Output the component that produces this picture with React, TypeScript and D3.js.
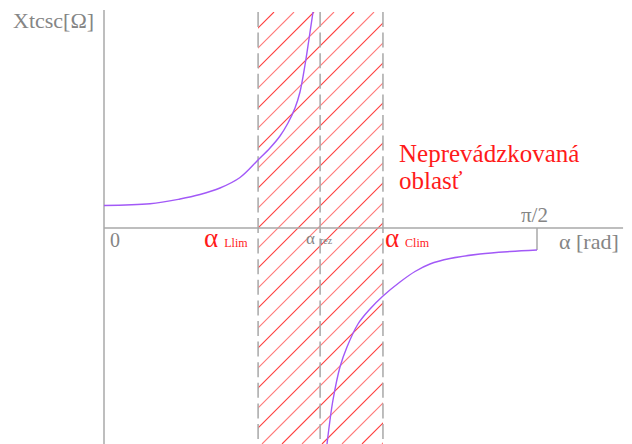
import React from "react";
import * as d3 from "d3";

// Reactance of the TCSC vs. firing angle α (rad)
const leftAlpha = [0, 0.1669, 0.2757, 0.3483, 0.4208, 0.4934, 0.5587, 0.6022, 0.6385, 0.6675, 0.6929, 0.711, 0.7292, 0.7437, 0.7582];
const leftX = [1.125, 1.21, 1.45, 1.675, 2.0, 2.525, 3.4, 4.0, 4.6, 5.25, 6.0, 6.8, 8.15, 9.45, 10.8];
const rightAlpha = [0.809, 0.8199, 0.8307, 0.8561, 0.8815, 0.9214, 0.965, 1.0121, 1.0738, 1.1282, 1.1826, 1.2552, 1.364, 1.4728, 1.5708];
const rightX = [-10.8, -9.6, -8.6, -6.95, -5.95, -4.8, -4.05, -3.4, -2.7, -2.175, -1.8, -1.525, -1.3, -1.175, -1.1];

// characteristic angles
const alphaLlim = 0.559;
const alphaRez = 0.784;
const alphaClim = 1.012;
const alphaMax = Math.PI / 2;
const alphaAxisEnd = 1.883;

const W = 632;
const H = 444;

export default function App() {
  const x = d3.scaleLinear().domain([0, alphaMax]).range([104, 537]);
  const y = d3.scaleLinear().domain([-10.8, 10.9]).range([444, 10]);

  const line = d3
    .line<[number, number]>()
    .x((d) => x(d[0]))
    .y((d) => y(d[1]))
    .curve(d3.curveCatmullRom.alpha(0.5));

  const leftPts = leftAlpha.map((a, i) => [a, leftX[i]] as [number, number]);
  const rightPts = rightAlpha.map((a, i) => [a, rightX[i]] as [number, number]);

  const x0 = x(alphaLlim);
  const x1 = x(alphaClim);
  const yTop = 12;
  const yBot = H;

  // diagonal hatch lines x + y = c
  const hatch: number[] = [];
  for (let c = 6; c < x1 + yBot + 40; c += 20) {
    if (c > x0 + yTop) hatch.push(c);
  }

  const gray = "#858585";
  const axisGray = "#a8a8a8";
  const red = "#ff1a1a";
  const serif = "'Liberation Serif', 'DejaVu Serif', serif";

  return (
    <svg
      width={W}
      height={H}
      style={{ position: "fixed", left: 0, top: 0, background: "#fff" }}
      fontFamily={serif}
    >
      <defs>
        <clipPath id="zone">
          <rect x={x0} y={yTop} width={x1 - x0} height={yBot - yTop} />
        </clipPath>
      </defs>

      {/* hatched non-operating zone */}
      <g clipPath="url(#zone)">
        {hatch.map((c, i) => (
          <line
            key={c}
            x1={c - yBot}
            y1={yBot}
            x2={c - yTop}
            y2={yTop}
            stroke={red}
            strokeOpacity={i % 2 === 0 ? 0.85 : 0.6}
            strokeWidth={1.1}
          />
        ))}
      </g>

      {[alphaLlim, alphaRez, alphaClim].map((a) => (
        <line
          key={a}
          x1={x(a)}
          x2={x(a)}
          y1={yTop}
          y2={yBot}
          stroke={axisGray}
          strokeWidth={1.5}
          strokeDasharray="15 5.6"
        />
      ))}

      {/* axes */}
      <line x1={x(0)} x2={x(0)} y1={10} y2={H} stroke={axisGray} strokeWidth={1.5} />
      <line x1={x(0)} x2={x(alphaAxisEnd)} y1={y(0)} y2={y(0)} stroke={axisGray} strokeWidth={1.5} />
      <line x1={x(alphaMax)} x2={x(alphaMax)} y1={y(0)} y2={y(-1.1)} stroke={axisGray} strokeWidth={1.5} />

      {/* reactance curve */}
      <path d={line(leftPts) || ""} fill="none" stroke="#a259f7" strokeWidth={1.4} />
      <path d={line(rightPts) || ""} fill="none" stroke="#a259f7" strokeWidth={1.4} />

      {/* labels */}
      <text x={13} y={28} fontSize={22} fill={gray}>Xtcsc[Ω]</text>
      <text x={110} y={247} fontSize={20} fill={gray}>0</text>
      <text x={x(alphaMax) - 16} y={222} fontSize={21} fill={gray}>π/2</text>
      <text x={559} y={249} fontSize={22} fill={gray}>α [rad]</text>

      <text x={x(alphaLlim) - 54} y={247} fill={red}>
        <tspan fontSize={27}>α</tspan>
        <tspan fontSize={12} dx={6}>Llim</tspan>
      </text>
      <text x={x(alphaRez) - 14} y={244} fill={gray}>
        <tspan fontSize={17}>α</tspan>
        <tspan fontSize={10} dx={5}>rez</tspan>
      </text>
      <text x={x(alphaClim) + 2} y={247} fill={red}>
        <tspan fontSize={27}>α</tspan>
        <tspan fontSize={12} dx={6}>Clim</tspan>
      </text>

      <text x={399} y={162} fontSize={25} fill={red}>Neprevádzkovaná</text>
      <text x={399} y={189} fontSize={25} fill={red}>oblasť</text>
    </svg>
  );
}
